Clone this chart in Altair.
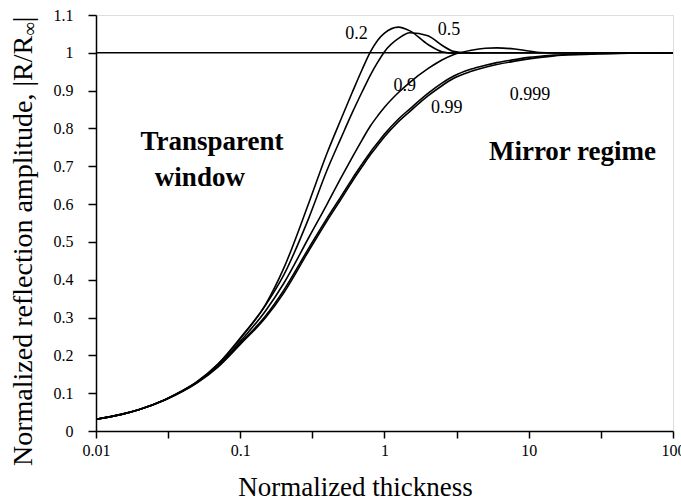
import altair as alt
import pandas as pd

# Normalized thickness grid shared by every curve
thickness = [0.01, 0.015, 0.02, 0.03, 0.04, 0.05, 0.07, 0.1, 0.15, 0.2, 0.3, 0.4, 0.5, 0.6, 0.7,
             0.8, 0.9, 1.0, 1.25, 1.5, 2, 2.5, 3, 4, 5, 6, 8, 10, 12, 15, 20, 30, 50, 100]

# Normalized reflection amplitude |R/R_inf| for each parameter value
amp_02 = [0.031, 0.044, 0.057, 0.083, 0.107, 0.130, 0.177, 0.246, 0.335, 0.430, 0.605, 0.735,
          0.825, 0.897, 0.956, 1.003, 1.034, 1.052, 1.068, 1.058, 1.022, 1.003, 0.999, 1.0,
          1.0, 1.0, 1.0, 1.0, 1.0, 1.0, 1.0, 1.0, 1.0, 1.0]
amp_05 = [0.031, 0.044, 0.057, 0.083, 0.107, 0.130, 0.176, 0.244, 0.333, 0.412, 0.565, 0.690,
          0.775, 0.843, 0.897, 0.942, 0.976, 1.003, 1.038, 1.053, 1.045, 1.020, 1.004, 0.999,
          1.0, 1.0, 1.0, 1.0, 1.0, 1.0, 1.0, 1.0, 1.0, 1.0]
amp_09 = [0.031, 0.044, 0.057, 0.082, 0.106, 0.129, 0.172, 0.237, 0.318, 0.390, 0.513, 0.600,
          0.670, 0.725, 0.770, 0.807, 0.834, 0.856, 0.895, 0.922, 0.958, 0.981, 0.995, 1.007,
          1.012, 1.013, 1.010, 1.005, 1.001, 1.0, 1.0, 1.0, 1.0, 1.0]
amp_099 = [0.031, 0.044, 0.057, 0.082, 0.106, 0.128, 0.171, 0.232, 0.305, 0.372, 0.485, 0.563,
           0.620, 0.668, 0.706, 0.738, 0.763, 0.785, 0.825, 0.852, 0.893, 0.920, 0.938, 0.957,
           0.967, 0.974, 0.982, 0.988, 0.991, 0.994, 0.996, 0.998, 0.999, 1.0]
amp_0999 = [0.031, 0.044, 0.057, 0.082, 0.105, 0.127, 0.169, 0.229, 0.300, 0.365, 0.478, 0.556,
            0.613, 0.661, 0.699, 0.731, 0.756, 0.778, 0.818, 0.845, 0.886, 0.913, 0.932, 0.951,
            0.962, 0.969, 0.978, 0.984, 0.988, 0.992, 0.995, 0.997, 0.999, 1.0]

series_names = ["0.2", "0.5", "0.9", "0.99", "0.999"]
series_values = [amp_02, amp_05, amp_09, amp_099, amp_0999]

# Curve labels and where they sit
label_text = ["0.2", "0.5", "0.9", "0.99", "0.999"]
label_x = [0.64, 2.8, 1.38, 2.7, 10.2]
label_y = [1.05, 1.06, 0.913, 0.855, 0.889]

# Regime annotations
region_text = ["Transparent", "window", "Mirror regime"]
region_x = [0.0636, 0.0525, 20.1]
region_y = [0.765, 0.668, 0.738]

# Pieces of the vertical axis title (R with an infinity subscript)
ytitle_main = "Normalized reflection amplitude, |R/R"
ytitle_sub = "∞"
ytitle_end = " |"

rows = []
for name, vals in zip(series_names, series_values):
    for t, a in zip(thickness, vals):
        rows.append({"series": name, "thickness": t, "amplitude": a})
curves = pd.DataFrame(rows)

labels = pd.DataFrame({"text": label_text, "x": label_x, "y": label_y})
regions = pd.DataFrame({"text": region_text, "x": region_x, "y": region_y})

FONT = "Liberation Serif"
x_ticks = [10 ** (k / 2) for k in range(-4, 5)]
y_ticks = [round(0.1 * k, 1) for k in range(12)]

x_scale = alt.Scale(type="log", domain=[0.01, 100], nice=False)
y_scale = alt.Scale(domain=[0, 1.1], nice=False, zero=False)

x_axis = alt.Axis(
    values=x_ticks,
    labelExpr="abs(log(datum.value)/LN10 - round(log(datum.value)/LN10)) < 0.01 ? format(datum.value, '~g') : ''",
    title="Normalized thickness",
    titleFont=FONT, titleFontSize=27, titleFontWeight="normal", titleColor="black",
    titleX=259, titleY=56, titleBaseline="middle",
    labelFont=FONT, labelFontSize=16, labelColor="black", labelPadding=4,
    labelOverlap=False, labelFlush=False,
    tickColor="black", tickSize=7, tickWidth=1.5,
    domainColor="black", domainWidth=1.5, grid=False,
)
y_axis = alt.Axis(
    values=y_ticks,
    labelExpr="format(datum.value, '~g')",
    title=None,
    labelFont=FONT, labelFontSize=16, labelColor="black", labelPadding=15,
    labelOverlap=False,
    tickColor="black", tickSize=8, tickWidth=1.5,
    domainColor="black", domainWidth=1.5, grid=False,
)


def xq(field):
    return alt.X(field, type="quantitative", scale=x_scale, axis=x_axis)


def yq(field):
    return alt.Y(field, type="quantitative", scale=y_scale, axis=y_axis)


lines = alt.Chart(curves).mark_line(
    color="black", strokeWidth=1.6, clip=True, interpolate="monotone"
).encode(
    x=xq("thickness"),
    y=yq("amplitude"),
    detail="series:N",
)

unity = alt.Chart(pd.DataFrame({"level": [1.0]})).mark_rule(color="black", strokeWidth=1.5).encode(
    y=yq("level"),
)

curve_labels = alt.Chart(labels).mark_text(font=FONT, fontSize=18, color="black").encode(
    x=xq("x"), y=yq("y"), text="text:N",
)

region_labels = alt.Chart(regions).mark_text(
    font=FONT, fontSize=27, fontWeight="bold", color="black"
).encode(x=xq("x"), y=yq("y"), text="text:N")

# Vertical axis title, written bottom-to-top with a subscript
TITLE_SIZE = 28
SUB_SIZE = 19
title_x = -72
title_start = 451
main_len = 15.365 * TITLE_SIZE
sub_len = 0.713 * SUB_SIZE

ytitle_a = alt.Chart(pd.DataFrame({"t": [ytitle_main]})).mark_text(
    font=FONT, fontSize=TITLE_SIZE, angle=270, align="left", baseline="middle", color="black"
).encode(text="t:N", x=alt.value(title_x), y=alt.value(title_start))
ytitle_b = alt.Chart(pd.DataFrame({"t": [ytitle_sub]})).mark_text(
    font=FONT, fontSize=SUB_SIZE, angle=270, align="left", baseline="middle", color="black"
).encode(text="t:N", x=alt.value(title_x + 6), y=alt.value(title_start - main_len))
ytitle_c = alt.Chart(pd.DataFrame({"t": [ytitle_end]})).mark_text(
    font=FONT, fontSize=TITLE_SIZE, angle=270, align="left", baseline="middle", color="black"
).encode(text="t:N", x=alt.value(title_x), y=alt.value(title_start - main_len - sub_len))

chart = (
    alt.layer(lines, unity, curve_labels, region_labels, ytitle_a, ytitle_b, ytitle_c)
    .properties(width=577, height=416, autosize=alt.AutoSizeParams(type="none"),
                padding={"left": 96, "top": 15, "right": 8, "bottom": 73})
    .configure_view(stroke="black", strokeWidth=1.5)
    .configure(background="white")
)

chart.save("out.html", embed_options={"renderer": "svg", "actions": False})
